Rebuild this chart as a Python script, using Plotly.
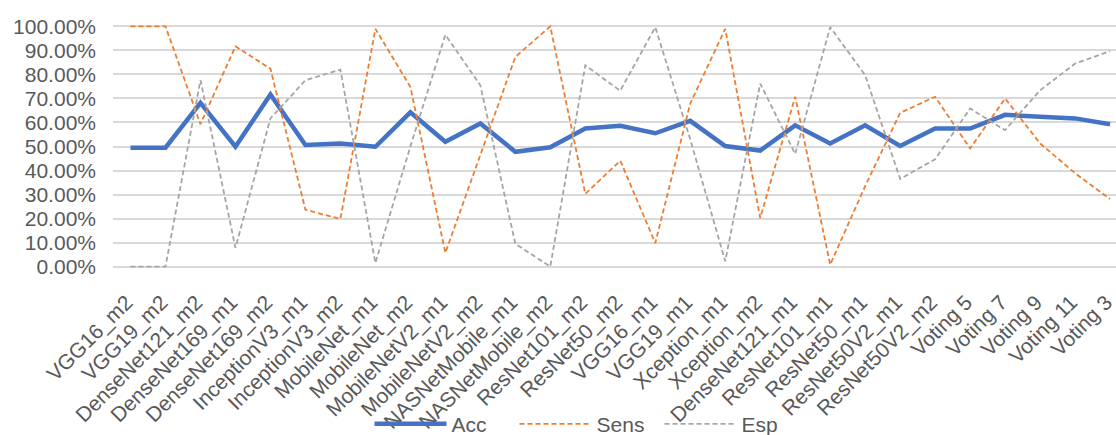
import plotly.graph_objects as go

categories = ["VGG16_m2", "VGG19_m2", "DenseNet121_m2", "DenseNet169_m1", "DenseNet169_m2",
              "InceptionV3_m1", "InceptionV3_m2", "MobileNet_m1", "MobileNet_m2", "MobileNetV2_m1",
              "MobileNetV2_m2", "NASNetMobile_m1", "NASNetMobile_m2", "ResNet101_m2", "ResNet50_m2",
              "VGG16_m1", "VGG19_m1", "Xception_m1", "Xception_m2", "DenseNet121_m1",
              "ResNet101_m1", "ResNet50_m1", "ResNet50V2_m1", "ResNet50V2_m2", "Voting 5",
              "Voting 7", "Voting 9", "Voting 11", "Voting 3"]

acc = [49.5, 49.5, 68.2, 49.9, 71.7, 50.6, 51.2, 49.9, 64.2, 52.0,
       59.6, 47.8, 49.7, 57.5, 58.6, 55.5, 60.7, 50.2, 48.3, 58.8,
       51.3, 58.8, 50.2, 57.5, 57.5, 63.2, 62.4, 61.7, 59.3]

sens = [100.0, 100.0, 59.3, 91.7, 82.4, 23.7, 19.8, 99.0, 74.8, 5.7,
        46.5, 87.3, 100.0, 30.3, 44.1, 9.8, 67.9, 99.0, 20.2, 70.7,
        0.8, 33.5, 64.0, 70.7, 49.2, 70.0, 51.3, 38.9, 28.1]

esp = [0.0, 0.0, 77.6, 7.8, 61.7, 77.6, 82.0, 1.5, 50.0, 96.5,
       75.5, 9.5, 0.0, 83.8, 73.2, 99.7, 53.0, 2.2, 76.2, 46.9,
       99.7, 79.7, 36.5, 44.7, 65.8, 56.8, 73.4, 84.5, 89.7]

series_names = ["Acc", "Sens", "Esp"]

FONT = "Liberation Sans, Arial, sans-serif"
TXT = "#595959"

fig = go.Figure()
fig.add_trace(go.Scatter(x=categories, y=[v / 100 for v in acc], name=series_names[0],
                         mode="lines", line=dict(color="#4472C4", width=4.5)))
fig.add_trace(go.Scatter(x=categories, y=[v / 100 for v in sens], name=series_names[1],
                         mode="lines", line=dict(color="#ED7D31", width=1.8, dash="5px,3px")))
fig.add_trace(go.Scatter(x=categories, y=[v / 100 for v in esp], name=series_names[2],
                         mode="lines", line=dict(color="#A5A5A5", width=1.8, dash="5px,3px")))

W, H = 1116, 435
fig.update_layout(
    width=W, height=H,
    margin=dict(l=112.5, r=0, t=23.6, b=165.6, pad=0, autoexpand=False),
    paper_bgcolor="white", plot_bgcolor="white",
    font=dict(family=FONT, size=21, color=TXT),
    showlegend=True,
    legend=dict(orientation="h", xref="container", yref="container",
                x=0.526, xanchor="center", y=0.025, yanchor="middle",
                font=dict(size=21, color=TXT), itemwidth=72,
                entrywidth=58, entrywidthmode="pixels",
                traceorder="normal", bgcolor="rgba(0,0,0,0)"),
)
fig.update_xaxes(
    type="category", range=[-0.5, 28.17], tickangle=-45, automargin=False,
    showgrid=False, showline=False, zeroline=False,
    ticks="", ticklabelstandoff=16, ticklabelshift=-4,
    tickfont=dict(family=FONT, size=21, color=TXT),
)
fig.update_yaxes(
    range=[-0.01, 1.01], tick0=0, dtick=0.1, tickformat=".2%", automargin=False,
    showgrid=True, gridcolor="#D9D9D9", gridwidth=1.5,
    zeroline=True, zerolinecolor="#D9D9D9", zerolinewidth=1.5,
    showline=False, ticks="", ticklabelstandoff=16,
    tickfont=dict(family=FONT, size=21, color=TXT),
)

fig.write_html("out.html")
